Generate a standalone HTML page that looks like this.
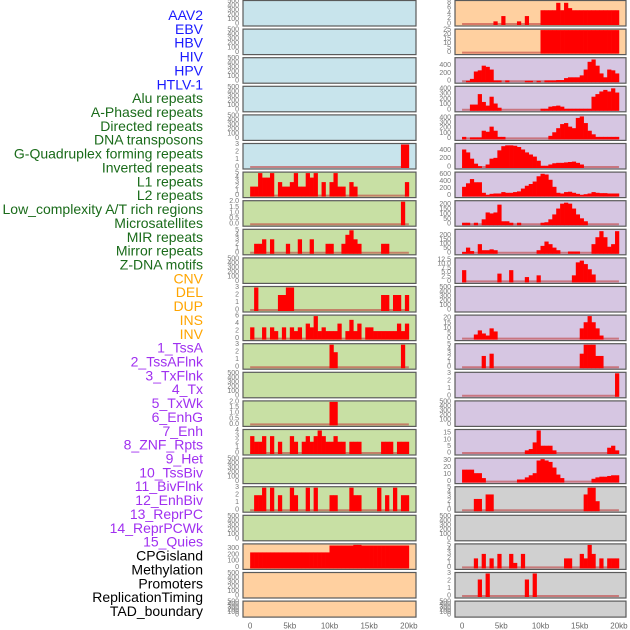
<!DOCTYPE html>
<html><head><meta charset="utf-8"><style>
html,body{margin:0;padding:0;background:#fff;width:630px;height:630px;overflow:hidden}
svg{display:block}
</style></head><body>
<svg id="chart" width="630" height="630" viewBox="0 0 630 630" xmlns="http://www.w3.org/2000/svg" font-family="Liberation Sans, sans-serif"></svg>
<script>
const featureLabels = ["AAV2","EBV","HBV","HIV","HPV","HTLV-1","Alu repeats","A-Phased repeats","Directed repeats","DNA transposons","G-Quadruplex forming repeats","Inverted repeats","L1 repeats","L2 repeats","Low_complexity A/T rich regions","Microsatellites","MIR repeats","Mirror repeats","Z-DNA motifs","CNV","DEL","DUP","INS","INV","1_TssA","2_TssAFlnk","3_TxFlnk","4_Tx","5_TxWk","6_EnhG","7_Enh","8_ZNF_Rpts","9_Het","10_TssBiv","11_BivFlnk","12_EnhBiv","13_ReprPC","14_ReprPCWk","15_Quies","CPGisland","Methylation","Promoters","ReplicationTiming","TAD_boundary"];
const labelGroups = [6,13,5,15,5];
const groupColors = ["#1a1aff","#1a6b1a","#ffa500","#a030f0","#000000"];
const xTickKb = [0,5,10,15,20];
const xTickLabels = ["0","5kb","10kb","15kb","20kb"];
const E = [0,100,200,300,400,500];
// left column panels: [ymax, ticks, sparse bins [binIndex(0.5kb), value]]
const leftMax = [500,500,500,500,500,3,5,2,5,500,3,6,3,500,2,4,500,3,500,360,500,500];
const leftTicks = [E,E,E,E,E,[0,1,2,3],[0,1,2,3,4,5],["0.0","0.5","1.0","1.5","2.0"],[0,1,2,3,4,5],E,[0,1,2,3],[0,2,4,6],[0,1,2,3],E,["0.0","0.5","1.0","1.5","2.0"],[0,1,2,3,4],E,[0,1,2,3],E,[0,100,200,300],E,E];
const leftBg = ["#c8e4ec","#c8e4ec","#c8e4ec","#c8e4ec","#c8e4ec","#c8e4ec","#c8e0a4","#c8e0a4","#c8e0a4","#c8e0a4","#c8e0a4","#c8e0a4","#c8e0a4","#c8e0a4","#c8e0a4","#c8e0a4","#c8e0a4","#c8e0a4","#c8e0a4","#ffd0a0","#ffd0a0","#ffd0a0"];
const leftBins = [[],[],[],[],[],
 [[38,3],[39,3]],
 [[0,2],[1,2],[2,5],[3,4],[4,4],[5,5],[7,3],[8,2],[9,2],[10,3],[11,5],[12,2],[13,2],[14,5],[15,4],[16,5],[18,3],[20,3],[21,5],[22,2],[23,2],[25,3],[26,2],[39,3]],
 [[38,2]],
 [[1,2],[2,2],[3,3],[5,3],[9,2],[12,3],[15,3],[19,2],[20,2],[23,2],[24,4],[25,5],[26,3],[27,2],[33,2],[34,2]],
 [],
 [[1,3],[7,2],[8,2],[9,3],[10,3],[33,2],[34,2],[36,2],[37,2],[39,2]],
 [[0,3],[3,3],[5,3],[6,2],[8,3],[10,3],[11,2],[12,3],[14,4],[15,3],[16,6],[17,2],[18,3],[19,2],[20,2],[21,2],[22,4],[24,2],[25,5],[26,2],[27,4],[29,3],[30,3],[31,2],[32,2],[33,2],[34,2],[35,2],[36,2],[37,4],[38,2],[39,4]],
 [[20,3],[21,2],[38,3]],
 [],
 [[20,2],[21,2]],
 [[0,3],[1,2],[2,2],[3,3],[5,3],[7,2],[10,3],[11,2],[13,2],[14,3],[15,2],[16,3],[17,4],[18,3],[19,2],[20,2],[21,3],[22,2],[23,2],[25,2],[26,2],[27,2],[33,2],[34,2],[35,2],[37,2],[38,2],[39,2]],
 [],
 [[1,2],[2,2],[3,3],[5,3],[7,2],[10,3],[11,2],[14,3],[16,3],[20,2],[21,2],[25,3],[26,2],[27,2],[32,3],[34,2],[36,3],[38,2],[39,2]],
 [],
 [[0,240],[1,240],[2,240],[3,240],[4,240],[5,240],[6,240],[7,240],[8,240],[9,240],[10,240],[11,240],[12,240],[13,240],[14,240],[15,240],[16,240],[17,240],[18,240],[19,240],[20,350],[21,350],[22,350],[23,350],[24,350],[25,350],[26,360],[27,360],[28,350],[29,350],[30,350],[31,350],[32,350],[33,350],[34,350],[35,350],[36,350],[37,350],[38,350],[39,350]],
 [],[]];
const rightMax = [8.5,25,580,430,440,540,640,230,260,13,500,22,5,3,500,17,32,5,500,5,3,500];
const rightTicks = [[0,2,4,6,8],[0,5,10,15,20,25],[0,200,400],[0,100,200,300,400],[0,100,200,300,400],[0,200,400],[0,200,400,600],[0,50,100,150,200],[0,50,100,150,200],["0","2.5","5.0","7.5","10.0","12.5"],E,[0,5,10,15,20],[0,1,2,3,4,5],[0,1,2,3],E,[0,5,10,15],[0,10,20,30],[0,1,2,3,4,5],E,[0,1,2,3,4,5],[0,1,2,3],E];
const rightBg = ["#ffd0a0","#ffd0a0","#d6c6e2","#d6c6e2","#d6c6e2","#d6c6e2","#d6c6e2","#d6c6e2","#d6c6e2","#d6c6e2","#d6c6e2","#d6c6e2","#d6c6e2","#d6c6e2","#d6c6e2","#d6c6e2","#d6c6e2","#d0d0d0","#d0d0d0","#d0d0d0","#d0d0d0","#d0d0d0"];
const rightBins = [
 [[8,1],[10,3],[14,1],[16,3],[20,5.2],[21,5.2],[22,5.2],[23,5.2],[24,8],[25,5.2],[26,8],[27,6],[28,5.2],[29,5.2],[30,5.2],[31,5.2],[32,5.2],[33,5.2],[34,5.2],[35,5.2],[36,5.2],[37,5.2],[38,5.2],[39,5.2]],
 [[20,25],[21,25],[22,25],[23,25],[24,25],[25,25],[26,25],[27,25],[28,25],[29,25],[30,25],[31,25],[32,25],[33,25],[34,25],[35,25],[36,25],[37,25],[38,25],[39,25]],
 [[1,10],[2,60],[3,250],[4,280],[5,400],[6,370],[7,300],[8,20],[9,20],[11,20],[16,10],[17,10],[19,10],[21,20],[22,20],[23,20],[24,30],[25,30],[26,80],[27,100],[28,100],[29,100],[30,150],[31,300],[32,500],[33,560],[34,400],[35,200],[36,100],[37,300],[38,280],[39,200]],
 [[2,100],[3,100],[4,300],[5,150],[6,80],[7,250],[8,120],[9,40],[20,20],[21,20],[22,60],[23,70],[24,80],[25,60],[26,20],[27,20],[28,20],[29,20],[30,20],[31,20],[32,20],[33,250],[34,300],[35,350],[36,380],[37,350],[38,410],[39,330]],
 [[0,30],[2,20],[3,20],[4,20],[5,150],[6,130],[7,230],[8,150],[9,30],[10,30],[22,50],[23,120],[24,200],[25,280],[26,300],[27,230],[28,200],[29,400],[30,430],[31,300],[32,150],[33,80],[34,30],[35,30],[36,30],[37,30],[38,30],[39,30]],
 [[0,420],[1,350],[2,200],[3,80],[4,20],[6,60],[7,200],[8,220],[9,400],[10,500],[11,520],[12,520],[13,510],[14,480],[15,420],[16,350],[17,300],[18,250],[19,150],[20,30],[21,30],[22,60],[23,90],[24,100],[25,100],[26,110],[27,120],[28,130],[29,100],[30,60]],
 [[0,250],[1,350],[2,470],[3,380],[4,380],[5,80],[6,20],[7,50],[8,60],[9,60],[10,100],[11,80],[12,80],[13,100],[14,120],[15,200],[16,280],[17,330],[18,400],[19,550],[20,620],[21,600],[22,450],[23,250],[24,80],[25,60],[26,100],[27,110],[28,80],[29,50],[30,20],[31,40],[32,60],[33,100],[34,80],[35,70],[36,70],[37,60],[38,60],[39,60]],
 [[0,15],[1,15],[3,15],[5,50],[6,120],[7,110],[8,120],[9,200],[10,30],[11,30],[12,15],[14,15],[20,15],[21,20],[22,50],[23,100],[24,160],[25,210],[26,220],[27,210],[28,160],[29,100],[30,60],[31,30]],
 [[0,10],[1,60],[2,20],[4,100],[5,30],[6,30],[7,40],[8,30],[19,30],[20,80],[21,130],[22,100],[23,60],[24,30],[27,15],[28,15],[29,15],[33,100],[34,180],[35,250],[36,180],[37,70],[38,100],[39,250]],
 [[0,6.5],[9,4.5],[12,6.5],[16,2.5],[19,3.5],[28,3.5],[29,11],[30,12],[31,10],[32,7],[33,4]],
 [],
 [[3,4],[4,8],[5,5],[6,3],[7,10],[8,7],[30,10],[31,16],[32,22],[33,16],[34,10],[35,3]],
 [[5,2.5],[7,3],[30,3],[31,5],[32,5],[33,5],[34,2.5],[35,2.5]],
 [[39,3]],
 [],
 [[16,2],[17,3],[18,8],[19,17],[20,5.5],[21,5.5],[22,5.5],[23,2],[37,4],[38,5.5],[39,2]],
 [[0,17],[1,17],[2,17],[3,12],[4,12],[5,5],[14,3],[15,3],[16,6],[17,9],[18,12],[19,30],[20,32],[21,30],[22,28],[23,20],[24,10],[25,5],[33,4],[34,6],[35,7],[36,7],[37,8],[38,9],[39,9]],
 [[3,2.5],[4,2.5],[6,3.5],[7,3.5],[31,3.5],[32,5],[33,5],[34,2]],
 [],
 [[3,2],[5,3],[7,2],[9,3],[12,3],[13,1],[15,3],[26,2],[27,2],[30,3],[31,2],[32,5],[33,3],[35,2],[37,2],[38,2],[39,2]],
 [[4,2.2],[6,3],[16,2.2],[18,3]],
 []];

const NS="http://www.w3.org/2000/svg";
const svg=document.getElementById('chart');
function mk(tag,attrs,parent){const e=document.createElementNS(NS,tag);for(const k in attrs)e.setAttribute(k,attrs[k]);(parent||svg).appendChild(e);return e;}

// labels
let gi=0,cnt=0;
featureLabels.forEach((t,i)=>{
  while(cnt>=labelGroups[gi]){cnt-=labelGroups[gi];gi++;}
  const el=mk('text',{x:203,y:15+i*13.86,'text-anchor':'end','dominant-baseline':'central','font-size':14,fill:groupColors[gi]});
  el.textContent=t;
  
  
  cnt++;
});

const KB0=-0.9, KBW=21.8;
function rowTop(i){return i*28.6+0.5;}
function rowH(i){return i===21?16:25.5;}
function drawPanel(side,i,px0,w,ymax,ticks,bg,bins){
  const top=rowTop(i),h=rowH(i);
  const g=mk('g',{});
  
  
  const r=mk('rect',{x:px0,y:top,width:w,height:h,fill:bg,stroke:'#5a5a5a','stroke-width':1.2},g);
  
  
  const xs=kb=>px0+(kb-KB0)/KBW*w;
  const y0=top+h-2, yt=top+1;
  const ys=v=>y0-(v/ymax)*(y0-yt);
  ticks.forEach(t=>{
    const tx=mk('text',{x:px0-4,y:ys(parseFloat(t)),'text-anchor':'end','dominant-baseline':'central','font-size':7,fill:'#777'},g);
    tx.textContent=String(t);
    
    
  });
  if(bins.length){
    const bl=mk('line',{x1:xs(0),x2:xs(20),y1:y0,y2:y0,stroke:'#c04040','stroke-opacity':0.6,'stroke-width':2},g);
    
    
  }
  bins.forEach(b=>{
    const x1=xs(b[0]*0.5), x2=xs(b[0]*0.5+0.5);
    const yv=Math.max(ys(b[1]),top+0.6);
    const br=mk('rect',{x:x1,y:yv,width:x2-x1+0.3,height:y0-yv+1,fill:'#ff0000'},g);
    
    
  });
}
for(let i=0;i<22;i++){
  drawPanel('left',i,243,173,leftMax[i],leftTicks[i],leftBg[i],leftBins[i]);
  drawPanel('right',i,455,171,rightMax[i],rightTicks[i],rightBg[i],rightBins[i]);
}
[[243,173],[455,171]].forEach(p=>{
  xTickKb.forEach((kb,j)=>{
    const t=mk('text',{x:p[0]+(kb-KB0)/KBW*p[1],y:626,'text-anchor':'middle','dominant-baseline':'central','font-size':8,fill:'#666'});
    t.textContent=xTickLabels[j];
    
    
  });
});
</script>
</body></html>
